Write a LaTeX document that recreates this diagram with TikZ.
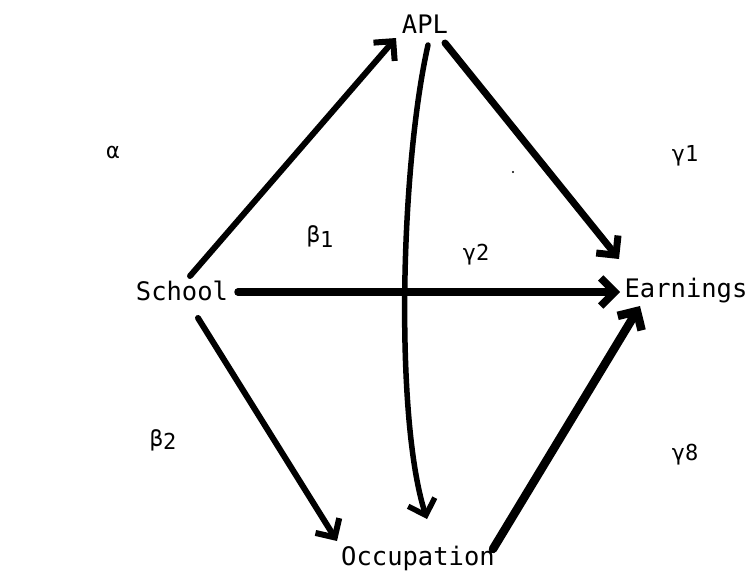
\documentclass[tikz,border=0pt]{standalone}
\usepackage{fontspec}
\setmainfont{DejaVu Sans Mono}
\usetikzlibrary{arrows.meta}
\begin{document}
\begin{tikzpicture}[x=1pt,y=-1pt,
  lbl/.style={inner sep=0pt,font=\fontsize{25.5}{30}\selectfont},
  coef/.style={inner sep=0pt,font=\fontsize{22}{26}\selectfont},
  conn/.style={line cap=round,line join=round,-{Straight Barb[length=14pt,width=28pt]}}]
\useasboundingbox (0,0) rectangle (752,582);
% nodes
\node[lbl] (APL) at (425,24) {APL};
\node[lbl] (School) at (182,291) {School};
\node[lbl] (Earn) at (686,291) {Earnings};
\node[lbl] (Occ) at (418,558) {Occupation};
% coefficients
\node[coef] (alpha) at (113,152) {α};
\node[coef] (b1) at (320,236) {β\raisebox{-5pt}{1}};
\node[coef] (g2) at (476,255) {γ2};
\node[coef] (g1) at (685,156) {γ1};
\node[coef] (b2) at (163,440) {β\raisebox{-3pt}{2}};
\node[coef] (g8) at (685,455) {γ8};
\fill (513,172) circle (1.2pt);
% connector ends
\coordinate (sA) at (190,276);
\coordinate (aS) at (396,38);
\coordinate (aE) at (445,43);
\coordinate (eA) at (619,259);
\coordinate (aO) at (428,45);
\coordinate (oA) at (427,519);
\coordinate (sE) at (238,292);
\coordinate (eS) at (620,292);
\coordinate (sO) at (198,318);
\coordinate (oS) at (337,541);
\coordinate (oE) at (493,549);
\coordinate (eO) at (640,306);
% connectors
\draw[conn,line width=6pt] (sA) -- (aS);
\draw[conn,line width=7pt] (aE) -- (eA);
\draw[conn,line width=5.5pt] (aO) .. controls (400,170) and (395,420) .. (oA);
\draw[conn,line width=7.5pt] (sE) -- (eS);
\draw[conn,line width=6pt] (sO) -- (oS);
\draw[conn,line width=8.5pt] (oE) -- (eO);
\end{tikzpicture}
\end{document}
